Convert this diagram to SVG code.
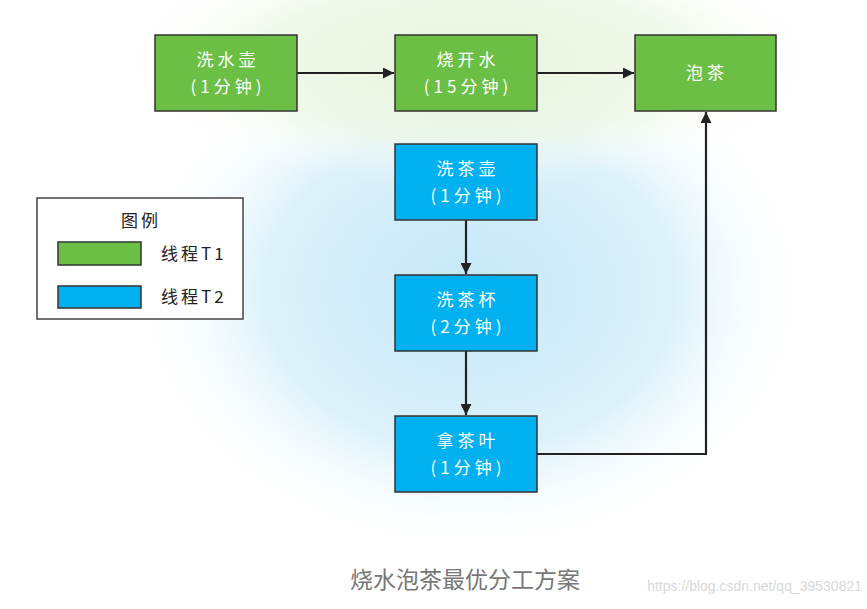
<svg xmlns="http://www.w3.org/2000/svg" width="867" height="609" viewBox="0 0 867 609">
<defs>
<radialGradient id="gBlue" cx="470" cy="290" r="340" gradientUnits="userSpaceOnUse" gradientTransform="translate(470 290) scale(1 0.78) translate(-470 -290)">
<stop offset="0" stop-color="#c4e8f8"/>
<stop offset="0.6" stop-color="#dcf1fa"/>
<stop offset="1" stop-color="#ffffff" stop-opacity="0"/>
</radialGradient>
<radialGradient id="gGreen" cx="470" cy="60" r="360" gradientUnits="userSpaceOnUse" gradientTransform="translate(470 60) scale(1 0.35) translate(-470 -60)">
<stop offset="0" stop-color="#e6f3dc"/>
<stop offset="0.6" stop-color="#eef7e6" stop-opacity="0.8"/>
<stop offset="1" stop-color="#ffffff" stop-opacity="0"/>
</radialGradient>
<marker id="arr" viewBox="0 0 10 10" refX="10" refY="5" markerWidth="11" markerHeight="11" markerUnits="userSpaceOnUse" orient="auto">
<path d="M0,0 L10,5 L0,10 Z" fill="#222"/>
</marker>
<style>
.g{fill:#6cbf45;stroke:#333;stroke-width:1.5}
.b{fill:#00b0ef;stroke:#333;stroke-width:1.5}
.t{font-family:"Noto Sans CJK SC","Noto Sans",sans-serif;font-size:17px;fill:#fff;text-anchor:middle;letter-spacing:4px}
.lt{font-family:"Noto Sans CJK SC","Noto Sans",sans-serif;font-size:17px;fill:#222;letter-spacing:3px}
.c{fill:none;stroke:#222;stroke-width:2.2}
</style>
</defs>
<rect width="867" height="609" fill="#fff"/>
<rect x="100" y="0" width="767" height="540" fill="url(#gBlue)"/>
<rect x="100" y="0" width="767" height="200" fill="url(#gGreen)"/>

<g id="connectors">
<line class="c" x1="297" y1="73" x2="394" y2="73" marker-end="url(#arr)"/>
<line class="c" x1="537" y1="73" x2="634" y2="73" marker-end="url(#arr)"/>
<line class="c" x1="466" y1="220" x2="466" y2="274" marker-end="url(#arr)"/>
<line class="c" x1="466" y1="351" x2="466" y2="415" marker-end="url(#arr)"/>
<polyline class="c" points="537,454 706,454 706,112" marker-end="url(#arr)"/>
</g>

<g id="n1"><rect class="g" x="155" y="35" width="142" height="76"/><text class="t" x="228" y="66">洗水壶</text><text class="t" x="228" y="93">(1分钟)</text></g>
<g id="n2"><rect class="g" x="395" y="35" width="142" height="76"/><text class="t" x="468" y="66">烧开水</text><text class="t" x="468" y="93">(15分钟)</text></g>
<g id="n3"><rect class="g" x="635" y="35" width="141" height="76"/><text class="t" x="707" y="79">泡茶</text></g>
<g id="n4"><rect class="b" x="395" y="144" width="142" height="76"/><text class="t" x="468" y="175">洗茶壶</text><text class="t" x="468" y="202">(1分钟)</text></g>
<g id="n5"><rect class="b" x="395" y="275" width="142" height="76"/><text class="t" x="468" y="306">洗茶杯</text><text class="t" x="468" y="333">(2分钟)</text></g>
<g id="n6"><rect class="b" x="395" y="416" width="142" height="76"/><text class="t" x="468" y="447">拿茶叶</text><text class="t" x="468" y="474">(1分钟)</text></g>

<g id="legend">
<rect x="37" y="198" width="206" height="121" fill="#fff" stroke="#444" stroke-width="1.5"/>
<text class="lt" x="141" y="227" text-anchor="middle" font-size="14" letter-spacing="1">图例</text>
<rect class="g" x="58" y="242" width="83" height="23"/>
<text class="lt" x="161" y="260">线程T1</text>
<rect class="b" x="58" y="286" width="83" height="22"/>
<text class="lt" x="161" y="303">线程T2</text>
</g>

<text x="465" y="588" font-family="Noto Sans CJK SC,sans-serif" font-size="23" fill="#777" text-anchor="middle">烧水泡茶最优分工方案</text>
<text x="862" y="591" font-family="Liberation Sans,sans-serif" font-size="14" fill="#d8d8d8" text-anchor="end">https://blog.csdn.net/qq_39530821</text>
</svg>
